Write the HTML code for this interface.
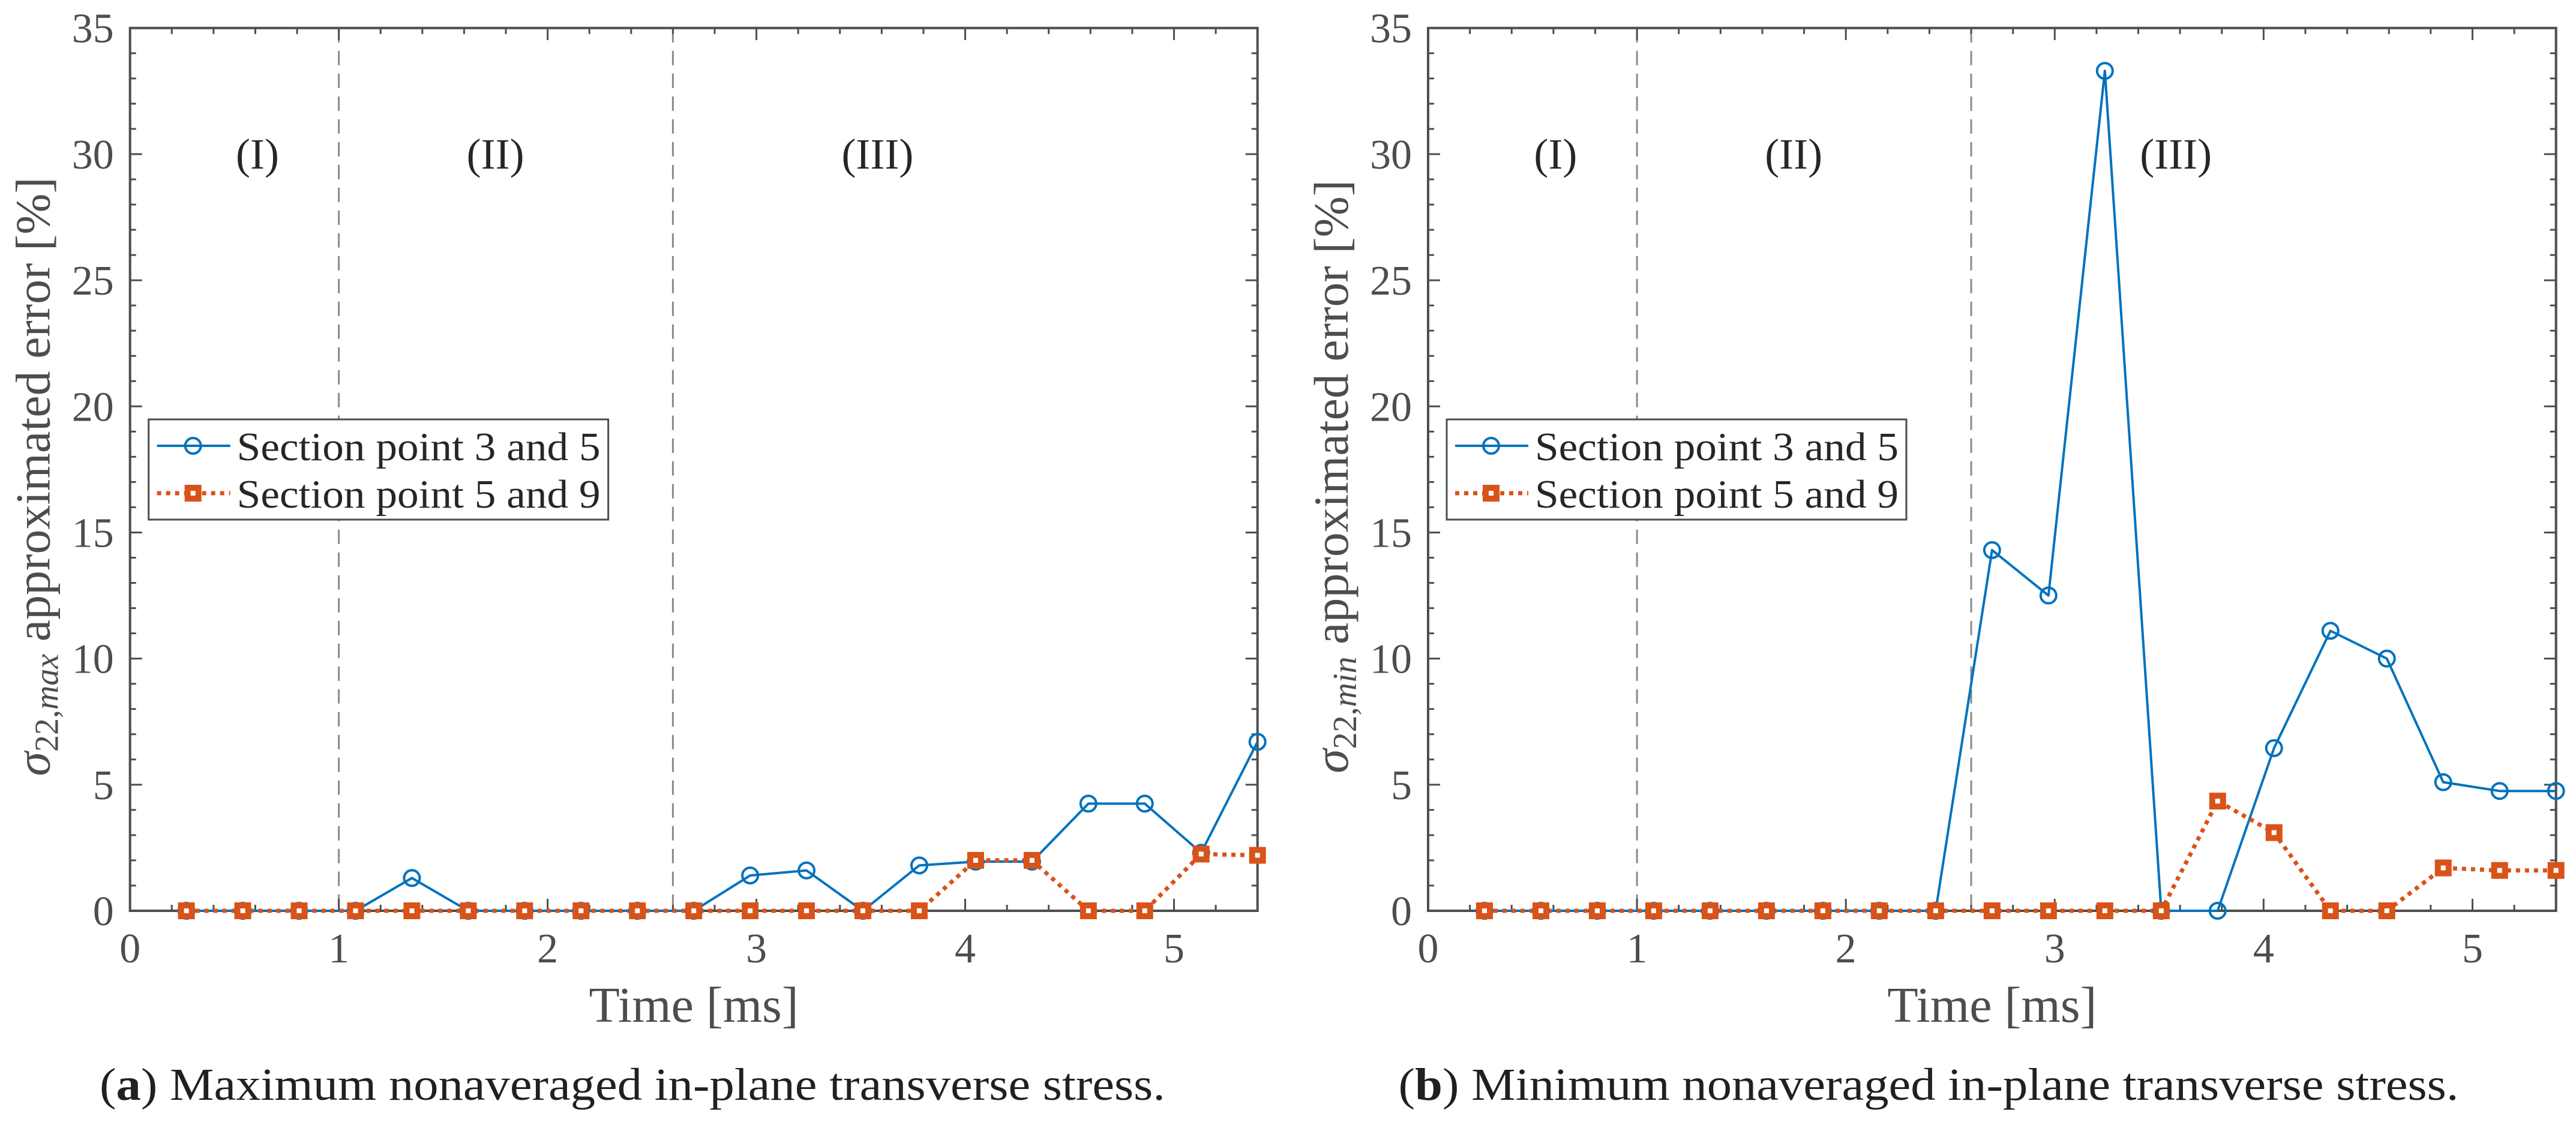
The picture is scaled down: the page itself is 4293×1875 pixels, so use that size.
<!DOCTYPE html>
<html><head><meta charset="utf-8"><style>
html,body{margin:0;padding:0;background:#fff;}
svg{display:block;}
text{font-family:"Liberation Serif",serif;}
</style></head><body>
<svg id="fig" width="4293" height="1875" viewBox="0 0 4293 1875" xmlns="http://www.w3.org/2000/svg"></svg>
<script>
const times = [0.27,0.54,0.81,1.08,1.35,1.62,1.89,2.16,2.43,2.7,2.97,3.24,3.51,3.78,4.05,4.32,4.59,4.86,5.13,5.4];
const maxSP35 = [0,0,0,0,1.3,0,0,0,0,0,1.4,1.6,0,1.8,1.95,1.95,4.25,4.25,2.3,6.7];
const maxSP59 = [0,0,0,0,0,0,0,0,0,0,0,0,0,0,2.0,2.0,0,0,2.25,2.2];
const minSP35 = [0,0,0,0,0,0,0,0,0,14.3,12.5,33.3,0,0,6.45,11.1,10.0,5.1,4.75,4.75];
const minSP59 = [0,0,0,0,0,0,0,0,0,0,0,0,0,4.35,3.1,0,0,1.7,1.6,1.6];
const xTickLabels = ["0","1","2","3","4","5"];
const yTickLabels = ["0","5","10","15","20","25","30","35"];
const phaseBounds = [1, 2.6];
const phaseNames = ["(I)","(II)","(III)"];
const phaseCenters = [0.61, 1.75, 3.58];
const legendLabels = ["Section point 3 and 5","Section point 5 and 9"];

const NS = "http://www.w3.org/2000/svg";
const svg = document.getElementById('fig');
function mk(tag, attrs, parent){
  const e = document.createElementNS(NS, tag);
  for (const k in attrs) e.setAttribute(k, attrs[k]);
  (parent||svg).appendChild(e);
  return e;
}
const BLUE="#0072BD", ORANGE="#D95319", AX="#4d4d4d";

function panel(cfg){
  const L=cfg.left, R=cfg.right, T=46.7, B=1518;
  const xMax=5.4, yMax=35;
  const xs = v => L + v*(R-L)/xMax;
  const ys = v => B - v*(B-T)/yMax;
  const g = mk('g',{});
  
  
  // phase dashed lines
  phaseBounds.forEach(b=>{
    const l = mk('line',{x1:xs(b),x2:xs(b),y1:T,y2:B,stroke:"#8a8a8a","stroke-width":3,"stroke-dasharray":"24 14"},g);
    
    
  });
  phaseNames.forEach((n,i)=>{
    const t = mk('text',{x:xs(phaseCenters[i]),y:281,"text-anchor":"middle","font-size":72,fill:"#262626"},g);
    t.textContent=n;
    
    
  });
  // minor ticks
  for(let i=1;i<27;i++){
    const v=i*0.2; if (Math.abs(v-Math.round(v))<1e-6) continue;
    const x=xs(v);
    mk('line',{x1:x,x2:x,y1:B,y2:B-10,stroke:AX,"stroke-width":3},g);
    mk('line',{x1:x,x2:x,y1:T,y2:T+10,stroke:AX,"stroke-width":3},g);
  }
  for(let i=1;i<35;i++){
    if(i%5===0) continue;
    const y=ys(i);
    mk('line',{x1:L,x2:L+10,y1:y,y2:y,stroke:AX,"stroke-width":3},g);
    mk('line',{x1:R,x2:R-10,y1:y,y2:y,stroke:AX,"stroke-width":3},g);
  }
  // major ticks + labels
  xTickLabels.forEach(s=>{
    const v=+s, x=xs(v);
    mk('line',{x1:x,x2:x,y1:B,y2:B-20,stroke:AX,"stroke-width":3},g);
    mk('line',{x1:x,x2:x,y1:T,y2:T+20,stroke:AX,"stroke-width":3},g);
    const t=mk('text',{x:x,y:1604,"text-anchor":"middle","font-size":70,fill:AX},g);
    t.textContent=s;
    
    
  });
  yTickLabels.forEach(s=>{
    const v=+s, y=ys(v);
    mk('line',{x1:L,x2:L+20,y1:y,y2:y,stroke:AX,"stroke-width":3},g);
    mk('line',{x1:R,x2:R-20,y1:y,y2:y,stroke:AX,"stroke-width":3},g);
    const t=mk('text',{x:L-27,y:y+24,"text-anchor":"end","font-size":70,fill:AX},g);
    t.textContent=s;
    
    
  });
  // axes box
  const box=mk('rect',{x:L,y:T,width:R-L,height:B-T,fill:"none",stroke:AX,"stroke-width":4},g);
  
  
  // series
  const s1=cfg.blue, s2=cfg.orange;
  const p1=mk('polyline',{points:times.map((t,i)=>xs(t)+","+ys(s1[i])).join(" "),fill:"none",stroke:BLUE,"stroke-width":4,"stroke-linejoin":"round"},g);
  
  
  const p2=mk('polyline',{points:times.map((t,i)=>xs(t)+","+ys(s2[i])).join(" "),fill:"none",stroke:ORANGE,"stroke-width":7,"stroke-dasharray":"7 8"},g);
  
  
  times.forEach((t,i)=>{
    const c=mk('circle',{cx:xs(t),cy:ys(s1[i]),r:13,fill:"none",stroke:BLUE,"stroke-width":4},g);
    
    
  });
  times.forEach((t,i)=>{
    const r=mk('rect',{x:xs(t)-9,y:ys(s2[i])-9,width:18,height:18,fill:"#fff",stroke:ORANGE,"stroke-width":10},g);
    
    
  });
  // legend
  const lg=mk('g',{},g);
  
  
  const lx=L+31, ly=699;
  mk('rect',{x:lx,y:ly,width:766,height:167,fill:"#fff",stroke:AX,"stroke-width":3},lg);
  const r1=743, r2=822;
  mk('line',{x1:lx+14,x2:lx+136,y1:r1,y2:r1,stroke:BLUE,"stroke-width":4},lg);
  mk('circle',{cx:lx+74,cy:r1,r:13,fill:"none",stroke:BLUE,"stroke-width":4},lg);
  mk('line',{x1:lx+14,x2:lx+136,y1:r2,y2:r2,stroke:ORANGE,"stroke-width":7,"stroke-dasharray":"7 8"},lg);
  mk('rect',{x:lx+74-9,y:r2-9,width:18,height:18,fill:"#fff",stroke:ORANGE,"stroke-width":10},lg);
  legendLabels.forEach((s,i)=>{
    const t=mk('text',{x:lx+147,y:(i?r2:r1)+24,"font-size":67,fill:"#262626",textLength:606,lengthAdjust:"spacingAndGlyphs"},lg);
    t.textContent=s;
    
    
  });
  // x label
  const xl=mk('text',{x:(L+R)/2,y:1703,"text-anchor":"middle","font-size":84,fill:AX},g);
  xl.textContent="Time [ms]";
  
  
  // y label
  const yl=mk('text',{x:0,y:0,"text-anchor":"middle","font-size":82,fill:AX,transform:`translate(${L-134},${(T+B)/2+12}) rotate(-90)`},g);
  
  
  const a=mk('tspan',{"font-style":"italic"},yl); a.textContent="σ";
  const b=mk('tspan',{"font-size":56,dy:14},yl); b.textContent="22,";
  const c=mk('tspan',{"font-size":56,"font-style":"italic"},yl); c.textContent=cfg.sub;
  const d=mk('tspan',{dy:-14},yl); d.textContent=" approximated error [%]";
  // caption
  const cap=mk('text',{x:cfg.capX,y:1833,"text-anchor":"middle","font-size":76,fill:"#231f20",textLength:cfg.capLen,lengthAdjust:"spacingAndGlyphs"},g);
  
  
  const c1=mk('tspan',{},cap); c1.textContent="(";
  const c2=mk('tspan',{"font-weight":"bold"},cap); c2.textContent=cfg.letter;
  const c3=mk('tspan',{},cap); c3.textContent=") "+cfg.caption;
}
panel({name:'panel-a-max-stress',left:216.7,right:2095.7,blue:maxSP35,orange:maxSP59,sub:"max",letter:"a",caption:"Maximum nonaveraged in-plane transverse stress.",capX:1054,capLen:1776});
panel({name:'panel-b-min-stress',left:2380,right:4259.7,blue:minSP35,orange:minSP59,sub:"min",letter:"b",caption:"Minimum nonaveraged in-plane transverse stress.",capX:3214,capLen:1767});
</script>
</body></html>
